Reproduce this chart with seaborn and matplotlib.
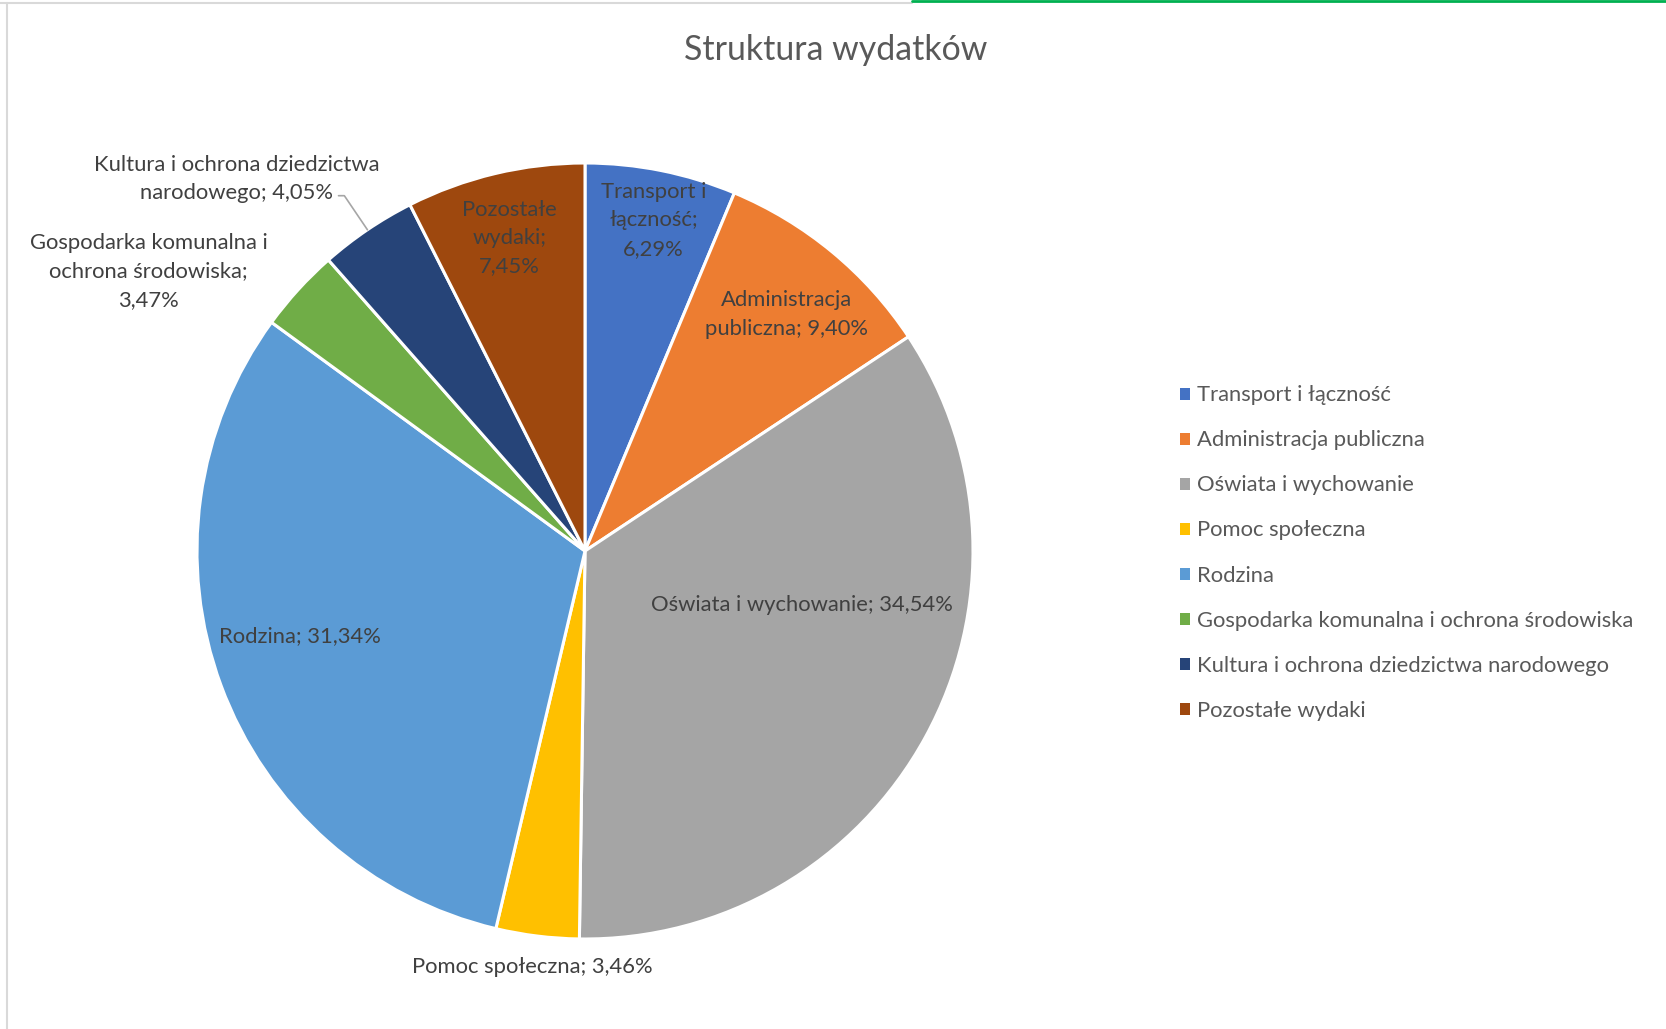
import numpy as np
import matplotlib
matplotlib.use("Agg")
import matplotlib.pyplot as plt
import seaborn as sns
from matplotlib.lines import Line2D

# Dane
kategorie = ['Transport i łączność', 'Administracja publiczna', 'Oświata i wychowanie',
             'Pomoc społeczna', 'Rodzina', 'Gospodarka komunalna i ochrona środowiska',
             'Kultura i ochrona dziedzictwa narodowego', 'Pozostałe wydaki']
udzialy = [6.29, 9.40, 34.54, 3.46, 31.34, 3.47, 4.05, 7.45]
etykiety = ['Transport i\nłączność;\n6,29%', 'Administracja\npubliczna; 9,40%',
            'Oświata i wychowanie; 34,54%', 'Pomoc społeczna; 3,46%', 'Rodzina; 31,34%',
            'Gospodarka komunalna i\nochrona środowiska;\n3,47%',
            'Kultura i ochrona dziedzictwa\nnarodowego; 4,05%', 'Pozostałe\nwydaki;\n7,45%']
kolory = ['#4472C4', '#ED7D31', '#A5A5A5', '#FFC000', '#5B9BD5', '#70AD47', '#264478', '#9E480E']

# Rozmieszczenie etykiet: (przesuniecie kata w stopniach, promien)
uklad_etykiet = [(-0.4, 0.87), (-0.8, 0.80), (14.8, 0.576), (-0.2, 1.08),
                 (-3.6, 0.766), (9.7, 1.336), (9.0, 1.313), (0.2, 0.83)]

sns.set_theme(style="white")
plt.rcParams['font.family'] = ['Lato', 'DejaVu Sans']

W, H = 1666, 1029
fig = plt.figure(figsize=(W / 100, H / 100), dpi=100)
cx, cy, R = 585, 551, 388
ax = fig.add_axes([(cx - R) / W, (H - cy - R) / H, 2 * R / W, 2 * R / H])

paleta = sns.color_palette(kolory)
wedges, _ = ax.pie(udzialy, colors=paleta, startangle=90, counterclock=False,
                   radius=1.0, wedgeprops=dict(edgecolor='white', linewidth=2.2))
ax.set_xlim(-1, 1)
ax.set_ylim(-1, 1)
ax.set_aspect('equal')
ax.axis('off')

fs = 15.8
for w, tekst, (dth, r) in zip(wedges, etykiety, uklad_etykiet):
    mid = np.deg2rad((w.theta1 + w.theta2) / 2 + dth)
    ax.text(r * np.cos(mid), r * np.sin(mid), tekst, ha='center', va='center',
            fontsize=fs, color='#404040', linespacing=1.53, clip_on=False)

# linia odniesienia dla etykiety Kultura
w = wedges[6]
mid = np.deg2rad((w.theta1 + w.theta2) / 2)
x0, y0 = np.cos(mid), np.sin(mid)
x1, y1 = 1.106 * np.cos(mid), 1.106 * np.sin(mid)
ax.plot([x0, x1, x1 - 0.015], [y0, y1, y1], color='#A6A6A6', lw=1.2, clip_on=False)

fig.text(0.5015, 1 - 50 / H, 'Struktura wydatków', ha='center', va='center',
         fontsize=24.4, color='#595959')

leg = fig.legend(wedges, kategorie, loc='center left',
                 bbox_to_anchor=(1160 / W, 1 - 553 / H), frameon=False,
                 fontsize=fs, labelcolor='#595959', handlelength=0.45,
                 handleheight=0.45, handletextpad=0.35, labelspacing=1.14)
for h in leg.legend_handles:
    h.set_edgecolor('none')

# obramowanie obszaru wykresu
fig.add_artist(Line2D([7 / W, 7 / W], [0, 1 - 3 / H], color='#D9D9D9', lw=1.5))
fig.add_artist(Line2D([0, 912 / W], [1 - 3 / H, 1 - 3 / H], color='#D9D9D9', lw=1.5))
fig.add_artist(Line2D([912 / W, 1], [1 - 1 / H, 1 - 1 / H], color='#00B050', lw=2))

fig.savefig('out.png', dpi=100)
